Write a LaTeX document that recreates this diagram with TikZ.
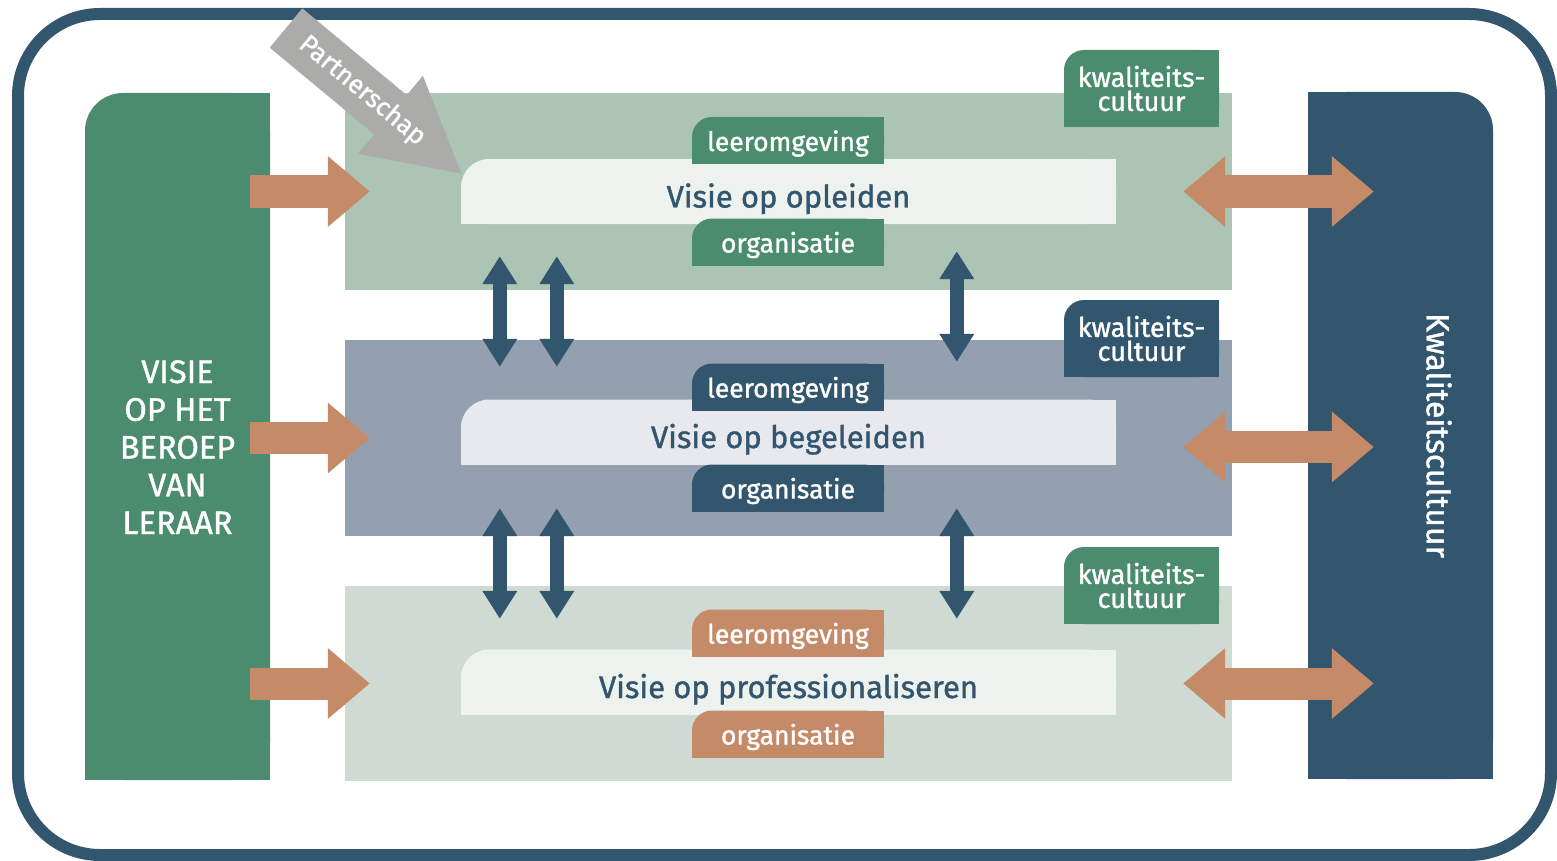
\documentclass[tikz,border=0pt]{standalone}
\usepackage{fontspec}
\setmainfont{Fira Sans}[FakeBold=1.2]
\usetikzlibrary{arrows.meta,calc}

\definecolor{donkerblauw}{HTML}{33566F}
\definecolor{groen}{HTML}{4A8C6D}
\definecolor{oranje}{HTML}{C58A68}
\definecolor{grijs}{HTML}{ABABAA}
\definecolor{bandA}{HTML}{ABC4B3}
\definecolor{bandB}{HTML}{949FB0}
\definecolor{bandC}{HTML}{CFDAD3}
\definecolor{balkA}{HTML}{EEF2EF}
\definecolor{balkB}{HTML}{E8E9EE}
\definecolor{balkC}{HTML}{EEF2EF}

\tikzset{
  % vlak met alleen de hoek linksboven afgerond
  tlround/.style 2 args={path picture={
      \fill[#1,rounded corners=#2] (path picture bounding box.south west) rectangle (path picture bounding box.north east);
      \fill[#1] (path picture bounding box.south west) rectangle (path picture bounding box.east);
      \fill[#1] (path picture bounding box.south) rectangle (path picture bounding box.north east);}},
  % vlak met alleen de hoek rechtsboven afgerond
  trround/.style 2 args={path picture={
      \fill[#1,rounded corners=#2] (path picture bounding box.south west) rectangle (path picture bounding box.north east);
      \fill[#1] (path picture bounding box.south west) rectangle (path picture bounding box.east);
      \fill[#1] (path picture bounding box.south west) rectangle (path picture bounding box.north);}},
  band/.style={minimum width=887pt, inner sep=0pt},
  balk/.style={minimum width=655pt, minimum height=65pt, inner sep=0pt, text=donkerblauw,
    font=\fontsize{31}{36}\selectfont, text height=32pt, text depth=0pt},
  tab/.style={minimum width=192pt, minimum height=47pt, inner sep=0pt, text=white,
    font=\fontsize{26.5}{30}\selectfont, text height=21pt, text depth=0pt},
  kwtab/.style={minimum width=155pt, minimum height=77pt, inner sep=0pt, align=center, text=white,
    font=\fontsize{27}{24}\selectfont},
  zijkant/.style={minimum width=185pt, minimum height=687pt, inner sep=0pt, align=center, text=white,
    font=\fontsize{32.5}{37.75}\selectfont},
  toevoer/.style={draw=oranje, line width=32pt, -{Triangle[length=42pt,width=68pt]}},
  wissel/.style={draw=oranje, line width=32pt, {Triangle[length=42pt,width=68pt]}-{Triangle[length=42pt,width=68pt]}},
  verband/.style={draw=donkerblauw, line width=14pt, {Triangle[length=28pt,width=33pt]}-{Triangle[length=28pt,width=33pt]}},
  partner/.style={draw=grijs, line width=51pt, -{Triangle[length=94pt,width=94pt]}}
}

\begin{document}
\begin{tikzpicture}[x=1pt,y=-1pt]
  \fill[white] (0,0) rectangle (1557,861);
  \useasboundingbox (0,0) rectangle (1557,861);
  \draw[donkerblauw, line width=12pt, rounded corners=82pt] (18,14) rectangle (1551,855);

  % drie lagen
  \node[band, fill=bandA, minimum height=197pt] (band1) at (788.5,191.5) {};
  \node[band, fill=bandB, minimum height=196pt] (band2) at (788.5,438) {};
  \node[band, fill=bandC, minimum height=195pt] (band3) at (788.5,683.5) {};

  \node[balk, tlround={balkA}{28pt}] (opleiden) at (788.5,191.5) {Visie op opleiden};
  \node[balk, tlround={balkB}{28pt}] (begeleiden) at (788.5,432) {Visie op begeleiden};
  \node[balk, tlround={balkC}{28pt}] (professionaliseren) at (788.5,682) {Visie op professionaliseren};

  \node[tab, tlround={groen}{20pt}] (leer1) at (788,140.5) {leeromgeving};
  \node[tab, tlround={groen}{20pt}] (org1) at (788,242) {organisatie};
  \node[tab, tlround={donkerblauw}{20pt}] (leer2) at (788,387) {leeromgeving};
  \node[tab, tlround={donkerblauw}{20pt}] (org2) at (788,488) {organisatie};
  \node[tab, tlround={oranje}{20pt}] (leer3) at (788,633) {leeromgeving};
  \node[tab, tlround={oranje}{20pt}] (org3) at (788,734) {organisatie};

  \node[kwtab, tlround={groen}{20pt}] (kwal1) at (1141.5,88.5) {kwaliteits-\\cultuur};
  \node[kwtab, tlround={donkerblauw}{20pt}] (kwal2) at (1141.5,338.5) {kwaliteits-\\cultuur};
  \node[kwtab, tlround={groen}{20pt}] (kwal3) at (1141.5,585.5) {kwaliteits-\\cultuur};

  % zijkanten
  \node[zijkant, tlround={groen}{38pt}, text height=195pt, text depth=0pt] (beroep) at (177.5,436.5)
    {VISIE\\OP HET\\BEROEP\\VAN\\LERAAR};
  \node[zijkant, trround={donkerblauw}{38pt}] (kwal) at (1400.5,435.5) {};
  \node[rotate=-90, text=white, font=\fontsize{32}{36}\selectfont] (kwaltekst) at ($(kwal.center)+(38.5,0)$) {Kwaliteitscultuur};

  % pijlen
  \draw[toevoer] ($(beroep.east |- band1)+(-20,0)$) -- ($(band1.west)+(25,0)$);
  \draw[toevoer] ($(beroep.east |- band2)+(-20,0)$) -- ($(band2.west)+(25,0)$);
  \draw[toevoer] ($(beroep.east |- band3)+(-20,0)$) -- ($(band3.west)+(25,0)$);

  \draw[wissel] ($(band1.east)+(-49,0)$) -- ($(kwal.west |- band1)+(66,0)$);
  \draw[wissel] ($(band2.east)+(-49,9)$) -- ($(kwal.west |- band2)+(66,9)$);
  \draw[wissel] ($(band3.east)+(-49,0)$) -- ($(kwal.west |- band3)+(66,0)$);

  \draw[verband] ($(band1.south west)+(155,-34)$) -- ($(band2.north west)+(155,27)$);
  \draw[verband] ($(band1.south west)+(212,-34)$) -- ($(band2.north west)+(212,27)$);
  \draw[verband] ($(band1.south west)+(612,-39)$) -- ($(band2.north west)+(612,22)$);
  \draw[verband] ($(band2.south west)+(155,-28)$) -- ($(band3.north west)+(155,33)$);
  \draw[verband] ($(band2.south west)+(212,-28)$) -- ($(band3.north west)+(212,33)$);
  \draw[verband] ($(band2.south west)+(612,-28)$) -- ($(band3.north west)+(612,33)$);

  \coordinate (partnerbegin) at (286,28);
  \draw[partner] (partnerbegin) -- node[pos=0.43, sloped, text=white, font=\fontsize{26}{26}\selectfont] (partnertekst) {Partnerschap}
    ($(opleiden.north west)+(2,16)$);
\end{tikzpicture}
\end{document}
